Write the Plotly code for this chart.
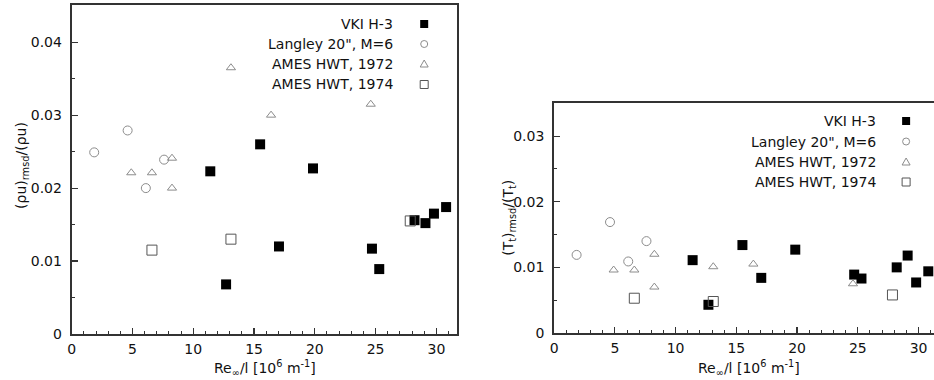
import plotly.graph_objects as go

# ---------------- data ----------------
series_names = ["VKI H-3", 'Langley 20", M=6', "AMES HWT, 1972", "AMES HWT, 1974"]

vki_re = [11.4, 12.7, 15.5, 17.05, 19.85, 24.7, 25.3, 28.2, 29.1, 29.8, 30.8]
vki_rhou = [0.0223, 0.0068, 0.0260, 0.0120, 0.0227, 0.0117, 0.0089, 0.0156, 0.0152, 0.0165, 0.0174]
vki_tt = [0.0111, 0.0043, 0.0134, 0.0084, 0.0127, 0.0089, 0.0083, 0.0100, 0.0118, 0.0077, 0.0094]

langley_re = [1.85, 4.6, 6.1, 7.6]
langley_rhou = [0.0249, 0.0279, 0.0200, 0.0239]
langley_tt = [0.0119, 0.0169, 0.0109, 0.0140]

ames72_re = [4.9, 6.6, 8.25, 8.25, 13.1, 16.4, 24.6]
ames72_rhou = [0.0221, 0.0221, 0.0241, 0.0200, 0.0365, 0.0300, 0.0315]
ames72_tt = [0.0096, 0.0096, 0.0120, 0.0070, 0.0101, 0.0105, 0.0075]

ames74_re = [6.6, 13.1, 27.85]
ames74_rhou = [0.0115, 0.0130, 0.0155]
ames74_tt = [0.0053, 0.0048, 0.0058]

x_ticks = [0, 5, 10, 15, 20, 25, 30]
y1_ticks = [0, 0.01, 0.02, 0.03, 0.04]
y1_labels = ["0", "0.01", "0.02", "0.03", "0.04"]
y2_ticks = [0, 0.01, 0.02, 0.03]
y2_labels = ["0", "0.01", "0.02", "0.03"]

# ---------------- styles ----------------
REF_W, REF_H = 934, 380   # reference pixel frame used for placement
FIG_W, FIG_H = 934, 388   # figure size filling the page viewport
FONT = "DejaVu Sans"
TXT = "#111111"
AX = "#333333"
styles = [
    dict(symbol="square", size=10, color="black", line=dict(width=0)),
    dict(symbol="circle-open", size=9, color="#8c8c8c", line=dict(width=1)),
    dict(symbol="triangle-up-open", size=8, color="#8c8c8c", line=dict(width=1)),
    dict(symbol="square-open", size=10, color="#555555", line=dict(width=1)),
]

fig = go.Figure()

left_sets = [(vki_re, vki_rhou), (langley_re, langley_rhou), (ames72_re, ames72_rhou), (ames74_re, ames74_rhou)]
right_sets = [(vki_re, vki_tt), (langley_re, langley_tt), (ames72_re, ames72_tt), (ames74_re, ames74_tt)]
for i, (xs, ys) in enumerate(left_sets):
    fig.add_trace(go.Scatter(x=xs, y=ys, mode="markers", marker=styles[i], name=series_names[i],
                             xaxis="x", yaxis="y", showlegend=False, cliponaxis=False, hoverinfo="skip"))
for i, (xs, ys) in enumerate(right_sets):
    fig.add_trace(go.Scatter(x=xs, y=ys, mode="markers", marker=styles[i], name=series_names[i],
                             xaxis="x2", yaxis="y2", showlegend=False, cliponaxis=False, hoverinfo="skip"))

def px(x):
    return x / REF_W

def py(y):
    return (REF_H - y) / REF_H

common_x = dict(
    tickmode="array", tickvals=x_ticks, ticktext=[str(t) for t in x_ticks],
    ticks="inside", ticklen=6, tickwidth=1.2, tickcolor=AX,
    minor=dict(dtick=1, ticks="inside", ticklen=3, tickwidth=1, tickcolor=AX),
    showline=True, linecolor=AX, linewidth=2,
    showgrid=False, zeroline=False, ticklabelstandoff=1,
    tickfont=dict(family=FONT, size=14, color=TXT),
)
common_y = dict(
    ticks="inside", ticklen=6, tickwidth=1.2, tickcolor=AX,
    minor=dict(dtick=0.005, ticks="inside", ticklen=3, tickwidth=1, tickcolor=AX),
    showline=True, linecolor=AX, linewidth=2,
    showgrid=False, zeroline=False, ticklabelstandoff=5,
    tickfont=dict(family=FONT, size=14, color=TXT),
)

fig.update_layout(
    width=FIG_W, height=FIG_H,
    margin=dict(l=0, r=0, t=0, b=0),
    paper_bgcolor="white", plot_bgcolor="white",
    showlegend=False,
    xaxis=dict(common_x, domain=[px(68), px(455)], range=[0, 31.7], anchor="y", mirror=True),
    yaxis=dict(common_y, domain=[py(334), py(5)], range=[0, 0.0451], anchor="x", mirror=True,
               tickmode="array", tickvals=y1_ticks, ticktext=y1_labels),
    xaxis2=dict(common_x, domain=[px(552.5), 1.0], range=[0, 31.27], anchor="y2", mirror=True),
    yaxis2=dict(common_y, domain=[py(333), py(103.3)], range=[0, 0.035], anchor="x2", mirror=False,
                tickmode="array", tickvals=y2_ticks, ticktext=y2_labels),
)

annotations = []
shapes = []
tfont = dict(family=FONT, size=14, color=TXT)

# axis titles
annotations.append(dict(x=px(262), y=py(368), xref="paper", yref="paper", showarrow=False,
                        text="Re<sub>∞</sub>/l [10<sup>6</sup> m<sup>-1</sup>]", font=tfont,
                        xanchor="center", yanchor="middle"))
annotations.append(dict(x=px(748), y=py(368), xref="paper", yref="paper", showarrow=False,
                        text="Re<sub>∞</sub>/l [10<sup>6</sup> m<sup>-1</sup>]", font=tfont,
                        xanchor="center", yanchor="middle"))
annotations.append(dict(x=px(18), y=py(165), xref="paper", yref="paper", showarrow=False,
                        text="(ρu)<sub>rmsd</sub>/(ρu)", font=tfont, textangle=-90,
                        xanchor="center", yanchor="middle"))
annotations.append(dict(x=px(507), y=py(218), xref="paper", yref="paper", showarrow=False,
                        text="(T<sub>t</sub>)<sub>rmsd</sub>/(T<sub>t</sub>)", font=tfont, textangle=-90,
                        xanchor="center", yanchor="middle"))

# legends (text right-aligned, symbol on the right)
def add_legend(text_right, marker_x, rows):
    for i, (name, yy) in enumerate(zip(series_names, rows)):
        annotations.append(dict(x=px(text_right), y=py(yy), xref="paper", yref="paper", showarrow=False,
                                text=name, font=tfont, xanchor="right", yanchor="middle"))
        base = dict(xref="paper", yref="paper", xsizemode="pixel", ysizemode="pixel",
                    xanchor=px(marker_x), yanchor=py(yy))
        if i == 0:
            shapes.append(dict(base, type="rect", x0=-4, x1=4, y0=-4, y1=4,
                               fillcolor="black", line=dict(width=0)))
        elif i == 1:
            shapes.append(dict(base, type="circle", x0=-3.5, x1=3.5, y0=-3.5, y1=3.5,
                               line=dict(color="#8c8c8c", width=1)))
        elif i == 2:
            shapes.append(dict(base, type="path", path="M -4,-3 L 4,-3 L 0,4 Z",
                               line=dict(color="#8c8c8c", width=1)))
        else:
            shapes.append(dict(base, type="rect", x0=-4, x1=4, y0=-4, y1=4,
                               line=dict(color="#555555", width=1)))

add_legend(393, 422, [24, 44, 64, 84.5])
add_legend(878, 906, [121, 141.5, 162, 182])

fig.update_layout(annotations=annotations, shapes=shapes)

# remove the default page margin so the figure fills the window exactly
fig.write_html("out.html",
               config={"displayModeBar": False, "staticPlot": True},
               post_script="document.body.style.margin='0';document.body.style.overflow='hidden';")
